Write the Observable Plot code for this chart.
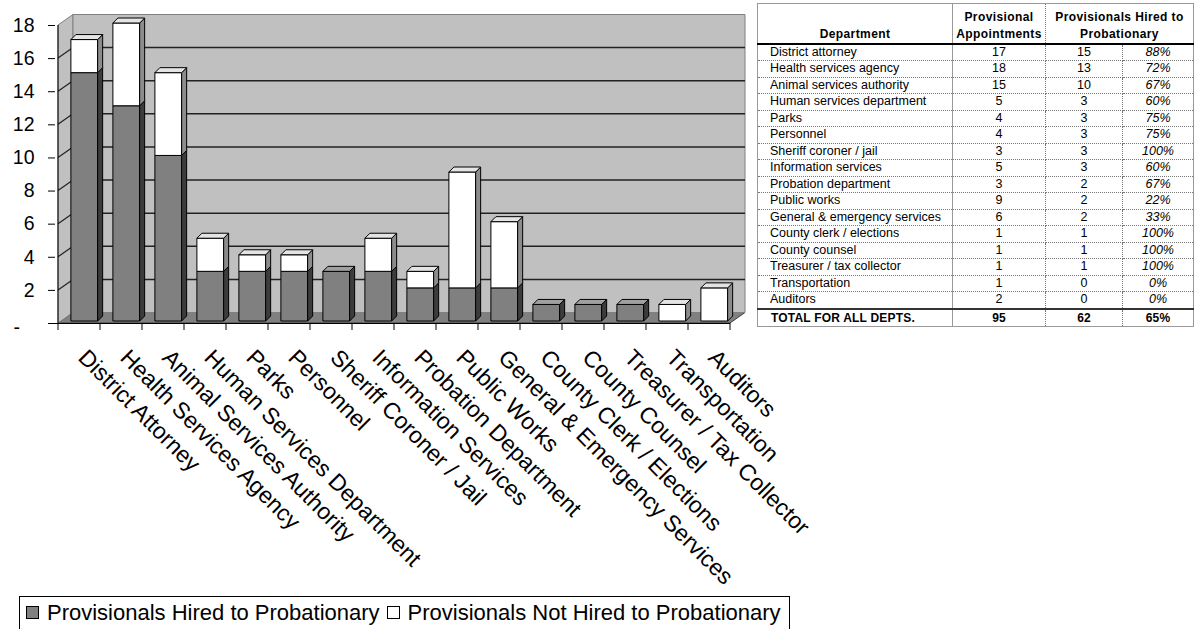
<!DOCTYPE html>
<html><head><meta charset="utf-8">
<script src="https://cdn.jsdelivr.net/npm/d3@7"></script>
<script src="https://cdn.jsdelivr.net/npm/@observablehq/plot@0.6"></script>
<style>
body{margin:0;background:#fff;font-family:Arial,"Liberation Sans",sans-serif;}
#wrap{position:relative;width:1199px;height:629px;overflow:hidden;background:#fff;}
#chart{position:absolute;left:0;top:0;}
#legend{position:absolute;left:19px;top:596px;border:1px solid #000;padding:4px 8px 6px 5px;font-size:22px;line-height:24px;white-space:nowrap;color:#000;background:#fff;}
#legend .sw{display:inline-block;width:11px;height:11px;border:1px solid #000;margin:0 8px 0 1px;vertical-align:1px;}
#legend .gap{display:inline-block;width:6px;}
#table{position:absolute;left:757px;top:3px;}
table{border-collapse:collapse;table-layout:fixed;width:436px;font-family:Arial,"Liberation Sans",sans-serif;font-size:12.5px;color:#000;}
td,th{padding:0 4px;overflow:hidden;white-space:nowrap;}
th{font-weight:bold;font-size:12px;letter-spacing:0.4px;line-height:17px;vertical-align:bottom;padding:0 2px;}
tr.head{height:40px;}
tr.head th{border-bottom:2px solid #000;}
tr.row td{height:15.5px;line-height:15px;border-bottom:1px dotted #777;}
tr.total td{height:16px;line-height:16px;font-weight:bold;font-size:12px;letter-spacing:0.2px;border-top:2px solid #333;border-bottom:1px solid #999;}
td.c1{padding-left:12px;}
.c1{border-right:1px solid #999;text-align:left;}
.c2{border-right:1px dotted #777;text-align:center;}
.c3{border-right:1px dotted #777;text-align:center;}
.c4{text-align:center;font-style:italic;}
table{border-top:1px solid #999;border-left:1px solid #999;border-right:1px solid #999;}
</style></head><body>
<div id="wrap"><div id="chart"></div><div id="table"></div><div id="legend"></div></div>
<script>
// ---------- data ----------
const departments = ["District Attorney","Health Services Agency","Animal Services Authority","Human Services Department","Parks","Personnel","Sheriff Coroner / Jail","Information Services","Probation Department","Public Works","General & Emergency Services","County Clerk / Elections","County Counsel","Treasurer / Tax Collector","Transportation","Auditors"];
const tableDepartments = ["District attorney","Health services agency","Animal services authority","Human services department","Parks","Personnel","Sheriff coroner / jail","Information services","Probation department","Public works","General & emergency services","County clerk / elections","County counsel","Treasurer / tax collector","Transportation","Auditors"];
const appointments = [17,18,15,5,4,4,3,5,3,9,6,1,1,1,1,2];
const hired = [15,13,10,3,3,3,3,3,2,2,2,1,1,1,0,0];
const percentLabels = ["88%","72%","67%","60%","75%","75%","100%","60%","67%","22%","33%","100%","100%","100%","0%","0%"];
const totalRow = ["TOTAL FOR ALL DEPTS.","95","62","65%"];
const tableHeaders = ["Department","Provisional\nAppointments","Provisionals Hired to\nProbationary"];
const yTicks = [0,2,4,6,8,10,12,14,16,18];
const seriesNames = ["Provisionals Hired to Probationary","Provisionals Not Hired to Probationary"];
const seriesColors = ["#808080","#ffffff"];

// ---------- derived rows ----------
const segments = departments.flatMap((d, i) => [
  {dept: d, series: seriesNames[0], y1: 0, y2: hired[i]},
  {dept: d, series: seriesNames[1], y1: hired[i], y2: appointments[i]}
]);
const labelRows = departments.map(d => ({dept: d, base: 0}));

const W = 800, H = 596, Y0 = 323;

function poly(g, pts, fill, stroke) {
  g.append("path").attr("d", "M" + pts.map(p => p[0] + "," + p[1]).join("L") + "Z")
    .attr("fill", fill).attr("stroke", stroke).attr("stroke-width", 1).attr("stroke-linejoin", "round");
}
function seg(g, a, b, stroke, w) {
  g.append("line").attr("x1", a[0]).attr("y1", a[1]).attr("x2", b[0]).attr("y2", b[1])
    .attr("stroke", stroke).attr("stroke-width", w || 1);
}

function scene(index, scales) {
  const x = scales.x, y = scales.y;
  const bw = x.bandwidth ? x.bandwidth() : 42.375;
  const xa = x(departments[0]), xb = x(departments[departments.length - 1]) + bw;
  const DX = 15, DY = -10.5;
  const y0 = y(0), yT = y(yTicks[yTicks.length - 1]);
  const g = d3.create("svg:g");
  // floor
  poly(g, [[xa, y0], [xb, y0], [xb + DX, y0 + DY], [xa + DX, y0 + DY]], "#808080", "#404040");
  // left wall
  poly(g, [[xa, y0], [xa + DX, y0 + DY], [xa + DX, yT + DY], [xa, yT]], "#c0c0c0", "#808080");
  // back wall
  poly(g, [[xa + DX, y0 + DY], [xb + DX, y0 + DY], [xb + DX, yT + DY], [xa + DX, yT + DY]], "#c0c0c0", "#808080");
  // gridlines
  for (const t of yTicks.slice(1, -1)) {
    seg(g, [xa + DX, y(t) + DY], [xb + DX, y(t) + DY], "#222", 1.5);
    seg(g, [xa, y(t)], [xa + DX, y(t) + DY], "#222", 1.2);
  }
  // axes lines
  seg(g, [xa, yT], [xa, y0], "#000", 1);
  seg(g, [xa - 7, y0 + 0.5], [xb, y0 + 0.5], "#000", 1);
  for (let i = 0; i <= departments.length; i++) {
    const xt = xa + i * bw;
    seg(g, [xt, y0], [xt, y0 + 7], "#000", 1);
  }
  // bars
  const BX = bw * 0.307, BW = bw * 0.637, OY = -2, ddx = 5, ddy = -5;
  const shades = {
    [seriesNames[0]]: {front: seriesColors[0], side: "#3c3c3c", top: "#a0a0a0"},
    [seriesNames[1]]: {front: seriesColors[1], side: "#8c8c8c", top: "#e4e4e4"}
  };
  departments.forEach((d) => {
    const left = x(d) + BX, right = left + BW;
    const segs = segments.filter(s => s.dept === d && s.y2 > s.y1);
    segs.forEach((s, k) => {
      const sh = shades[s.series];
      const yb = y(s.y1) + OY, yt = y(s.y2) + OY;
      poly(g, [[left, yt], [right, yt], [right, yb], [left, yb]], sh.front, "#000");
      poly(g, [[right, yb], [right + ddx, yb + ddy], [right + ddx, yt + ddy], [right, yt]], sh.side, "#000");
      if (k === segs.length - 1)
        poly(g, [[left, yt], [right, yt], [right + ddx, yt + ddy], [left + ddx, yt + ddy]], sh.top, "#000");
    });
  });
  return g.node();
}

const chart = Plot.plot({
  width: W, height: H,
  marginLeft: 55, marginRight: W - 733, marginTop: 25, marginBottom: H - Y0,
  x: {type: "band", domain: departments, padding: 0, axis: null, label: null},
  y: {domain: [0, 18], axis: null, label: null},
  style: {fontFamily: "Arial, 'Liberation Sans', sans-serif", background: "transparent", overflow: "visible", color: "#000"},
  marks: [
    scene,
    Plot.axisY(yTicks, {anchor: "left", label: null, tickSize: 7, tickPadding: 14, fontSize: 19.5, stroke: "#000", fill: "#000", tickFormat: d => d === 0 ? "" : String(d)}),
    Plot.text([0], {y: d => d, text: () => "-", frameAnchor: "left", textAnchor: "start", dx: -42, dy: 4, fontSize: 19.5, fill: "#000"}),
    Plot.text(labelRows, {x: "dept", y: "base", text: "dept", rotate: 45, textAnchor: "start", lineAnchor: "bottom", dx: -2.5, dy: 35.5, fontSize: 23, fill: "#000"})
  ]
});
document.getElementById("chart").appendChild(chart);

// legend
const lg = document.getElementById("legend");
lg.innerHTML = seriesNames.map((n, i) => `<span class="sw" style="background:${seriesColors[i]}"></span>${n}`).join('<span class="gap"></span>');

// table
let html = "<table><colgroup><col style='width:195px'><col style='width:93px'><col style='width:77px'><col style='width:71px'></colgroup>";
html += `<tr class="head"><th class="c1" style="text-align:center">${tableHeaders[0]}</th><th class="c2">${tableHeaders[1].replace("\n", "<br>")}</th><th colspan="2" style="text-align:center">${tableHeaders[2].replace("\n", "<br>")}</th></tr>`;
tableDepartments.forEach((d, i) => {
  html += `<tr class="row"><td class="c1">${d.replace("&", "&amp;")}</td><td class="c2">${appointments[i]}</td><td class="c3">${hired[i]}</td><td class="c4">${percentLabels[i]}</td></tr>`;
});
html += `<tr class="total"><td class="c1" style="padding-left:13px">${totalRow[0]}</td><td class="c2">${totalRow[1]}</td><td class="c3">${totalRow[2]}</td><td class="c4" style="font-style:normal">${totalRow[3]}</td></tr>`;
html += "</table>";
document.getElementById("table").innerHTML = html;
</script>
</body></html>
